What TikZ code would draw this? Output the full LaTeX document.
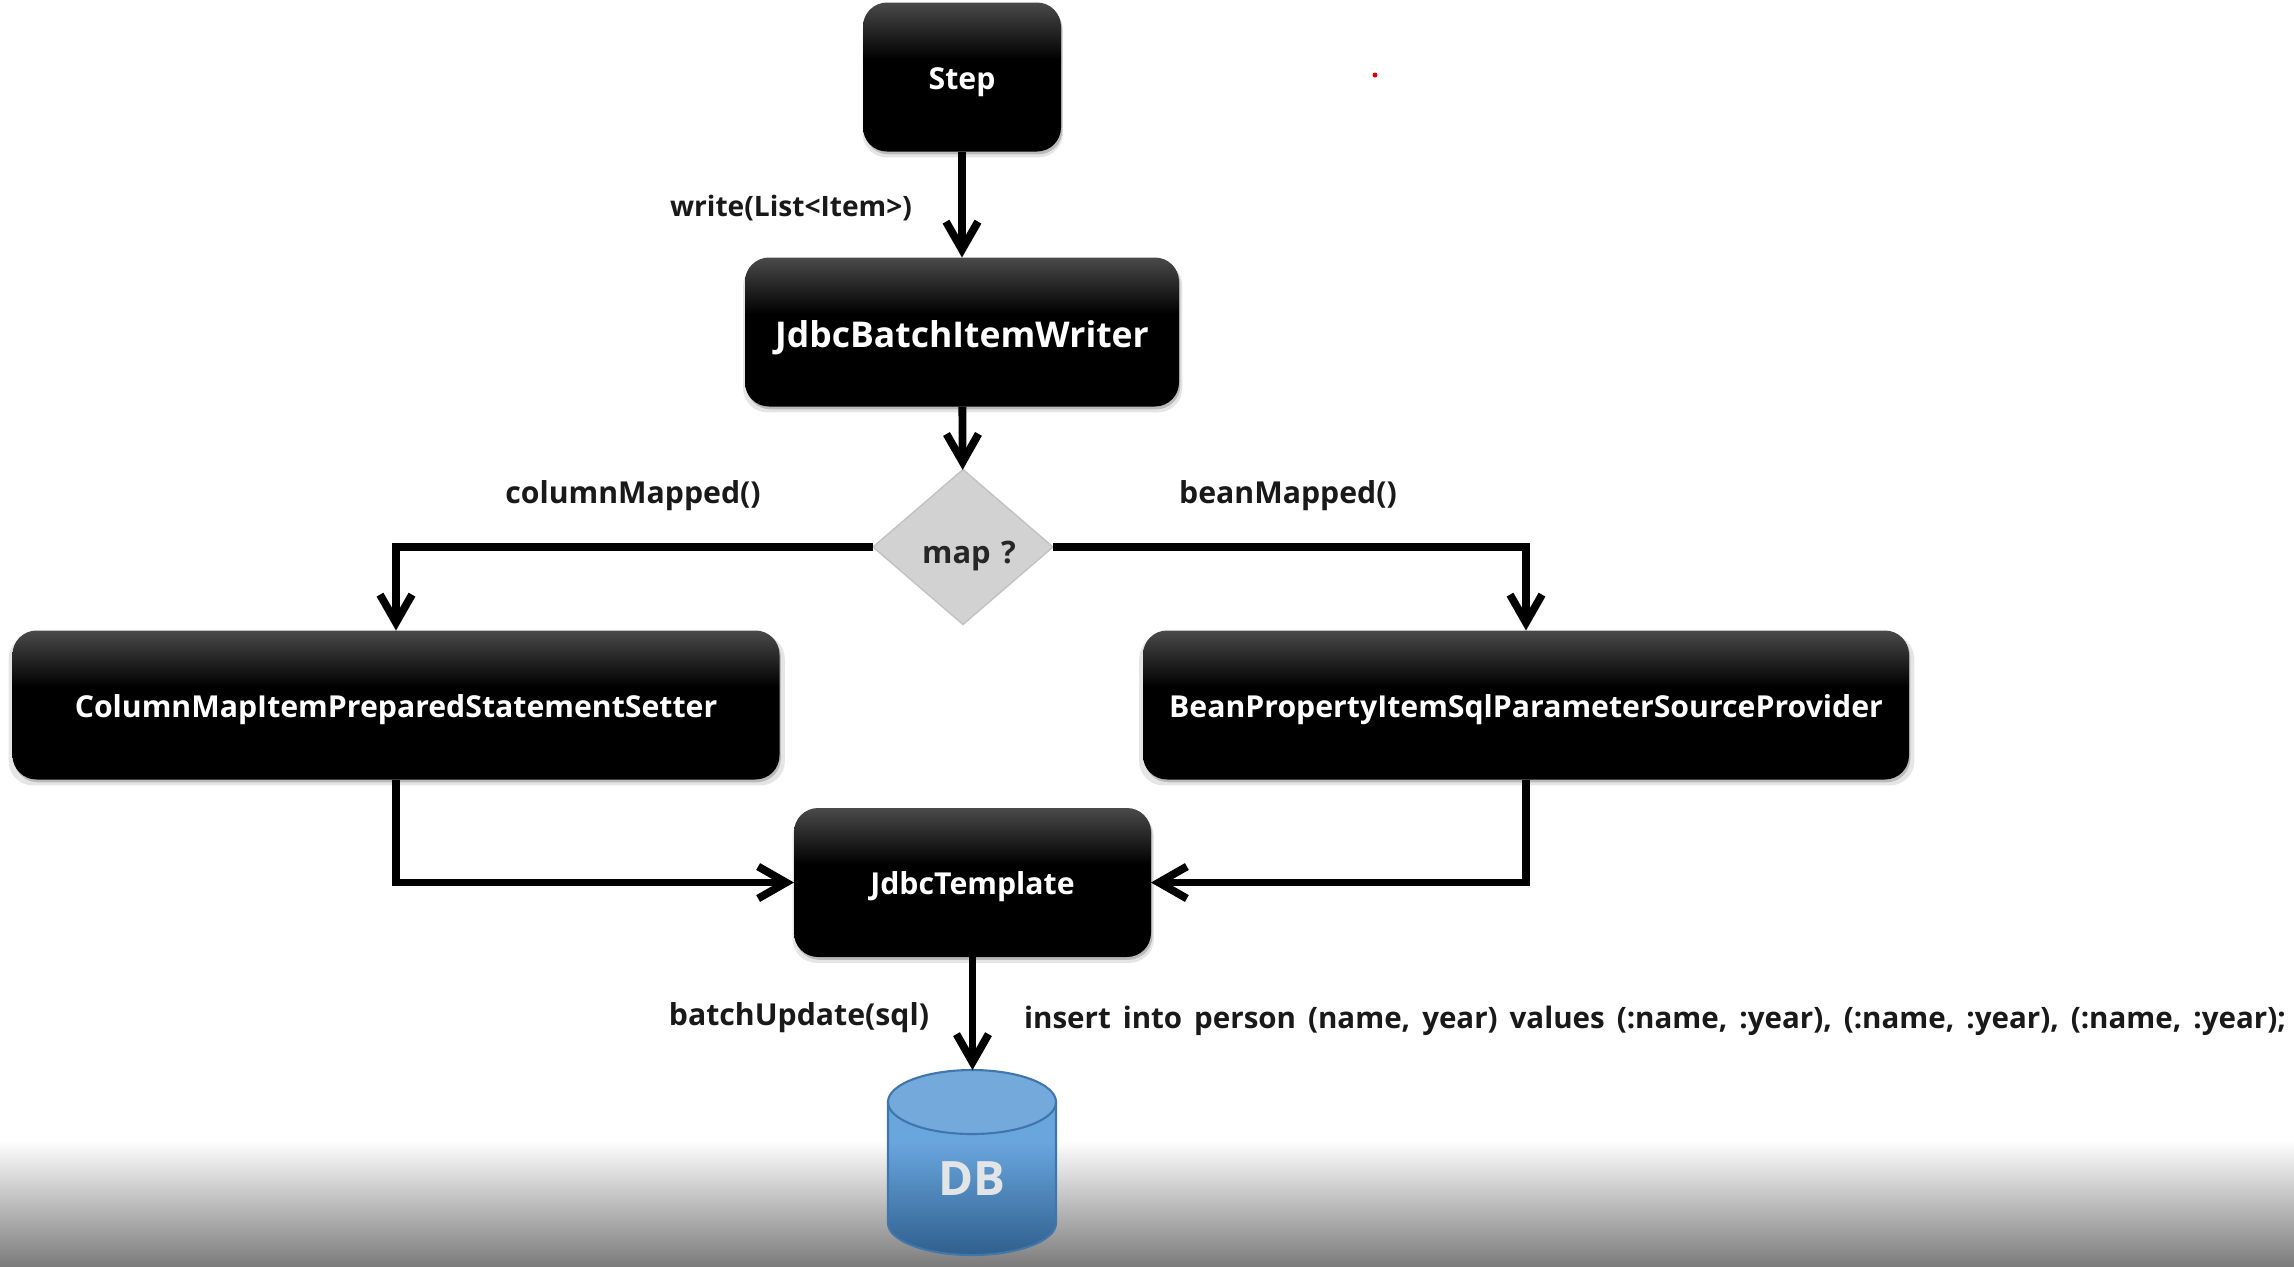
\documentclass[tikz,border=0pt]{standalone}
\usepackage{fontspec}
\setmainfont{Open Sans}
\usetikzlibrary{arrows.meta,positioning,shapes.geometric,shadows}
\definecolor{boxtop}{HTML}{4A4A4A}
\definecolor{mapfill}{HTML}{D2D2D2}
\definecolor{mapedge}{HTML}{C2C2C2}
\definecolor{dbtop}{HTML}{74A9DC}
\definecolor{dbhigh}{HTML}{69A6DE}
\definecolor{dblow}{HTML}{2F5F8E}
\definecolor{dbedge}{HTML}{3F76AB}
\definecolor{dbtext}{HTML}{E2E4E6}
\definecolor{pagelow}{HTML}{7C7C7C}
\pgfdeclareverticalshading{boxshade}{100bp}{color(0bp)=(black);color(56bp)=(black);color(75bp)=(boxtop);color(100bp)=(boxtop)}
\pgfdeclareverticalshading{dbshade}{100bp}{color(0bp)=(dblow);color(25bp)=(dblow);color(62bp)=(dbhigh);color(100bp)=(dbhigh)}
\tikzset{
  softshadow/.style={general shadow={fill=black,opacity=.1,shadow xshift=.2pt,shadow yshift=-1.4pt,shadow scale=1.012},
    general shadow={fill=black,opacity=.18,shadow xshift=.4pt,shadow yshift=-.8pt}},
  blackbox/.style={rectangle,rounded corners=.24cm,shading=boxshade,softshadow,text=white,font=\bfseries\fontsize{8.6}{11}\selectfont,
    minimum height=1.49cm,inner sep=0pt,outer sep=0pt,text height=.24cm,text depth=0pt},
  notelabel/.style={font=\bfseries\fontsize{8.6}{10}\selectfont,text=black!90,inner sep=0pt,text height=.2cm,text depth=0pt},
  link/.style={->,line width=.078cm,>={Straight Barb[length=.28cm,width=.32cm]}},
}
\begin{document}
\begin{tikzpicture}
\useasboundingbox (0,0) rectangle (22.94,-12.66);
\fill[white] (0,0) rectangle (22.94,-12.66);
\shade[top color=white,bottom color=pagelow] (0,-11.4) rectangle (22.94,-12.66);
% boxes
\node[blackbox,minimum width=1.98cm] (step) at (9.62,-0.77) {Step};
\node[blackbox,minimum width=4.34cm,text height=.3cm,font=\bfseries\fontsize{10.1}{12}\selectfont] (writer) at (9.62,-3.32) {JdbcBatchItemWriter};
\node[diamond,fill=mapfill,draw=mapedge,line width=.4pt,minimum width=1.8cm,minimum height=1.55cm,inner sep=0pt,outer sep=0pt,
  font=\bfseries\fontsize{8.8}{10}\selectfont,text=black!85,text height=.32cm,text depth=0pt] (map) at (9.63,-5.47) {\hspace{.12cm}map\,\,?};
\node[blackbox,minimum width=7.67cm] (column) at (3.96,-7.05) {ColumnMapItemPreparedStatementSetter};
\node[blackbox,minimum width=7.66cm] (bean) at (15.26,-7.05) {BeanPropertyItemSqlParameterSourceProvider};
\node[blackbox,minimum width=3.57cm] (template) at (9.725,-8.825) {JdbcTemplate};
% cylinder
\shade[shading=dbshade,draw=dbedge,line width=.6pt] (8.88,-11.02) -- (8.88,-12.23) arc[start angle=180,end angle=360,x radius=.84,y radius=.32] -- (10.56,-11.02) -- cycle;
\draw[fill=dbtop,draw=dbedge,line width=.6pt] (9.72,-11.02) ellipse (.84cm and .32cm);
\coordinate (dbtopedge) at (9.72,-10.70);
\node[text=dbtext,inner sep=0pt,text height=.34cm,text depth=0pt,font=\bfseries\fontsize{13.5}{15}\selectfont] (db) at (9.72,-11.78) {DB};
% labels
\node[notelabel,font=\bfseries\fontsize{8}{10}\selectfont] (writecall) at (7.91,-2.06) {write(List<Item>)};
\node[notelabel] (columncall) at (6.33,-4.93) {columnMapped()};
\node[notelabel] (beancall) at (12.88,-4.93) {beanMapped()};
\node[notelabel] (batchcall) at (7.99,-10.15) {batchUpdate(sql)};
\node[notelabel,font=\bfseries\fontsize{8.4}{10}\selectfont] (insertsql) at (16.55,-10.18) {\spaceskip=3.4pt\relax insert into person (name, year) values (:name, :year), (:name, :year), (:name, :year);};
\fill[red!85!black] (13.75,-.75) circle (.025cm);
% connectors
\path[link]
(step) edge (writer)
(writer) edge (map)
(template) edge (template |- dbtopedge);
\draw[link] (map) -| (column);
\draw[link] (map) -| (bean);
\draw[link] (column) |- (template);
\draw[link] (bean) |- (template);
\end{tikzpicture}
\end{document}
